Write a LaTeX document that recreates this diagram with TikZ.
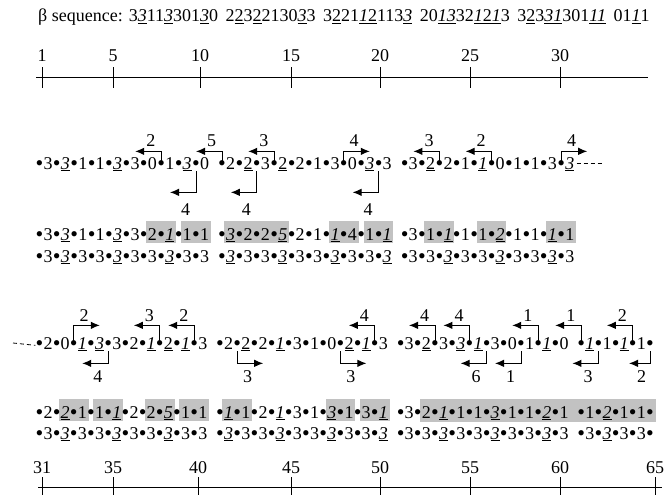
\documentclass[tikz,border=0pt]{standalone}
\usepackage{fontspec}
\setmainfont{Liberation Serif}
\usetikzlibrary{arrows.meta,calc,backgrounds}

\newcommand{\uit}[1]{\underline{\textit{#1}}}
\newcommand{\uup}[1]{\underline{#1}}
\newcommand{\gap}{\hspace{7.5pt}}

\tikzset{
  txt/.style={inner sep=0pt, font=\fontsize{18}{21}\selectfont},
  dig/.style={txt, anchor=base},
  bul/.style={anchor=base, inner sep=0pt, font=\fontsize{22}{22}\selectfont, yshift=-1.3pt},
  jump/.style={-{Latex[length=9pt,width=7.5pt]}, line width=1pt},
  hl/.style={fill=black!24},
  tick/.style={line width=0.9pt},
  dashes/.style={line width=0.8pt, dash pattern=on 4pt off 3pt},
}

% one row of the sequence: name, first index, baseline, pitch, digits
\newcommand{\seqrow}[5]{%
  \foreach \dg [count=\kk from 0] in {#5} {
    \pgfmathtruncatemacro{\n}{#2+\kk}
    \pgfmathsetmacro{\x}{48+\kk*#4+floor(\kk/10)*8.6}
    \node[bul] (#1-b\n) at (\x-8.6,#3) {•};
    \node[dig] (#1-d\n) at (\x,#3) {\dg};
  }}

% bent arrow from a bullet: bullet, dx, dy, label, shorten, label place
\newcommand{\jump}[6]{%
  \coordinate (#1-e) at ($(#1.center)+(#2,#3)$);
  \draw[jump, shorten <=#5] (#1.center) |- (#1-e)
    node[txt, pos=0.7, #6] (#1-l) {#4};}

\begin{document}
\begin{tikzpicture}[x=1pt, y=-1pt]
\useasboundingbox (0,0) rectangle (668,495);

\node[txt, anchor=base west] (title) at (38,22) {β sequence: 3\uit{3}11\uit{3}301\uit{3}0\gap%
  2\uup{2}3\uup{2}2130\uit{3}3\gap%
  3\uup{2}21\underline{\textit{1}2}113\uit{3}\gap%
  20\underline{\textit{13}}32\underline{\textit{1}2\textit{1}}3\gap%
  3\uup{2}3\underline{\textit{31}}301\underline{\textit{11}}\gap%
  01\uit{1}1};

% scales
\foreach \n/\x in {1/42,5/113,10/200,15/291,20/380,25/470,30/560} {
  \node[txt] (top\n) at (\x,56) {\n};
  \draw[tick] (\x,67) -- (\x,88);
}
\draw[tick] (36,77) -- (648,77);
\foreach \n/\x in {31/42,35/113,40/198,45/291,50/380,55/470,60/560,65/655} {
  \node[txt] (bot\n) at (\x,468) {\n};
  \draw[tick] (\x,477) -- (\x,495);
}
\draw[tick] (38,487) -- (662,487);

% positions 1--30
\seqrow{s}{1}{169}{17.4}{3,\uit{3},1,1,\uit{3},3,0,1,\uit{3},0,
  2,\uup{2},3,\uup{2},2,1,3,0,\uit{3},3,
  3,\uup{2},2,1,\uit{1},0,1,1,3,\uit{3}}
\seqrow{g}{1}{240}{17.4}{3,\uit{3},1,1,\uit{3},3,2,\uit{1},1,1,
  \uit{3},2,2,\uit{5},2,1,\uit{1},4,1,\uit{1},
  3,1,\uit{1},1,1,\uit{2},1,1,\uit{1},1}
\seqrow{t}{1}{262}{17.4}{3,\uit{3},3,3,\uit{3},3,3,\uit{3},3,3,
  \uit{3},3,3,\uit{3},3,3,\uit{3},3,3,\uit{3},
  3,3,\uit{3},3,3,\uit{3},3,3,\uit{3},3}
\coordinate (s-tail) at (604,163);
\draw[dashes] ($(s-d30.base east)+(2,-6)$) -- (s-tail);

\foreach \bn/\dx/\lab in {8/-26/2,11/-26/5,14/-26/3,18/26/4,23/-26/3,26/-26/2,30/26/4}
  {\jump{s-b\bn}{\dx}{-14}{\lab}{3pt}{above=4pt}}
\foreach \bn/\dx/\lab in {10/-26/4,13/-26/4,20/-26/4}
  {\jump{s-b\bn}{\dx}{27}{\lab}{6pt}{below=11pt}}

% positions 31--64
\seqrow{s}{31}{349}{17.2}{2,0,\uit{1},\uit{3},3,2,\uit{1},\uup{2},\uit{1},3,
  2,\uup{2},2,\uit{1},3,1,0,\uup{2},\uit{1},3,
  3,\uup{2},3,\uit{3},\uit{1},3,0,1,\uit{1},0,
  \uit{1},1,\uit{1},1,{}}
\seqrow{g}{31}{418}{17.2}{2,\uit{2},1,1,\uit{1},2,2,\uit{5},1,1,
  \uit{1},1,2,\uit{1},3,1,\uit{3},1,3,\uit{1},
  3,2,\uit{1},1,1,\uit{3},1,1,\uit{2},1,
  1,\uit{2},1,1,{}}
\seqrow{t}{31}{439}{17.2}{3,\uit{3},3,3,\uit{3},3,3,\uit{3},3,3,
  \uit{3},3,3,\uit{3},3,3,\uit{3},3,3,\uit{3},
  3,3,\uit{3},3,3,\uit{3},3,3,\uit{3},3,
  3,\uit{3},3,3,{}}
\coordinate (s-head) at (13,343);
\draw[dashes] (s-head) -- (s-b31.west);

\foreach \bn/\dx/\lab in {33/26/2,38/-26/3,40/-26/2,50/-26/4,53/-26/4,55/-26/4,59/-26/1,61/-26/1,64/-26/2}
  {\jump{s-b\bn}{\dx}{-20}{\lab}{3pt}{above=3pt}}
\foreach \bn/\dx/\lab in {35/-26/4,42/26/3,48/26/3,56/-26/6,58/-26/1,62/-26/3,65/-21/2}
  {\jump{s-b\bn}{\dx}{18}{\lab}{6pt}{below=7pt}}

% changed places
\begin{scope}[on background layer]
\foreach \a/\z in {7/8,9/10,11/14,17/18,19/20,22/23,25/26,29/30,32/33,34/35,37/38,39/40,41/42,47/48,49/50}
  \fill[hl] ($(g-d\a.base west)+(-1.5,-19)$) rectangle ($(g-d\z.base east)+(1.5,3)$);
\fill[hl] ($(g-d52.base west)+(-1.5,-19)$) rectangle ($(g-b65.base east)+(1.5,3)$);
\end{scope}
\end{tikzpicture}
\end{document}
